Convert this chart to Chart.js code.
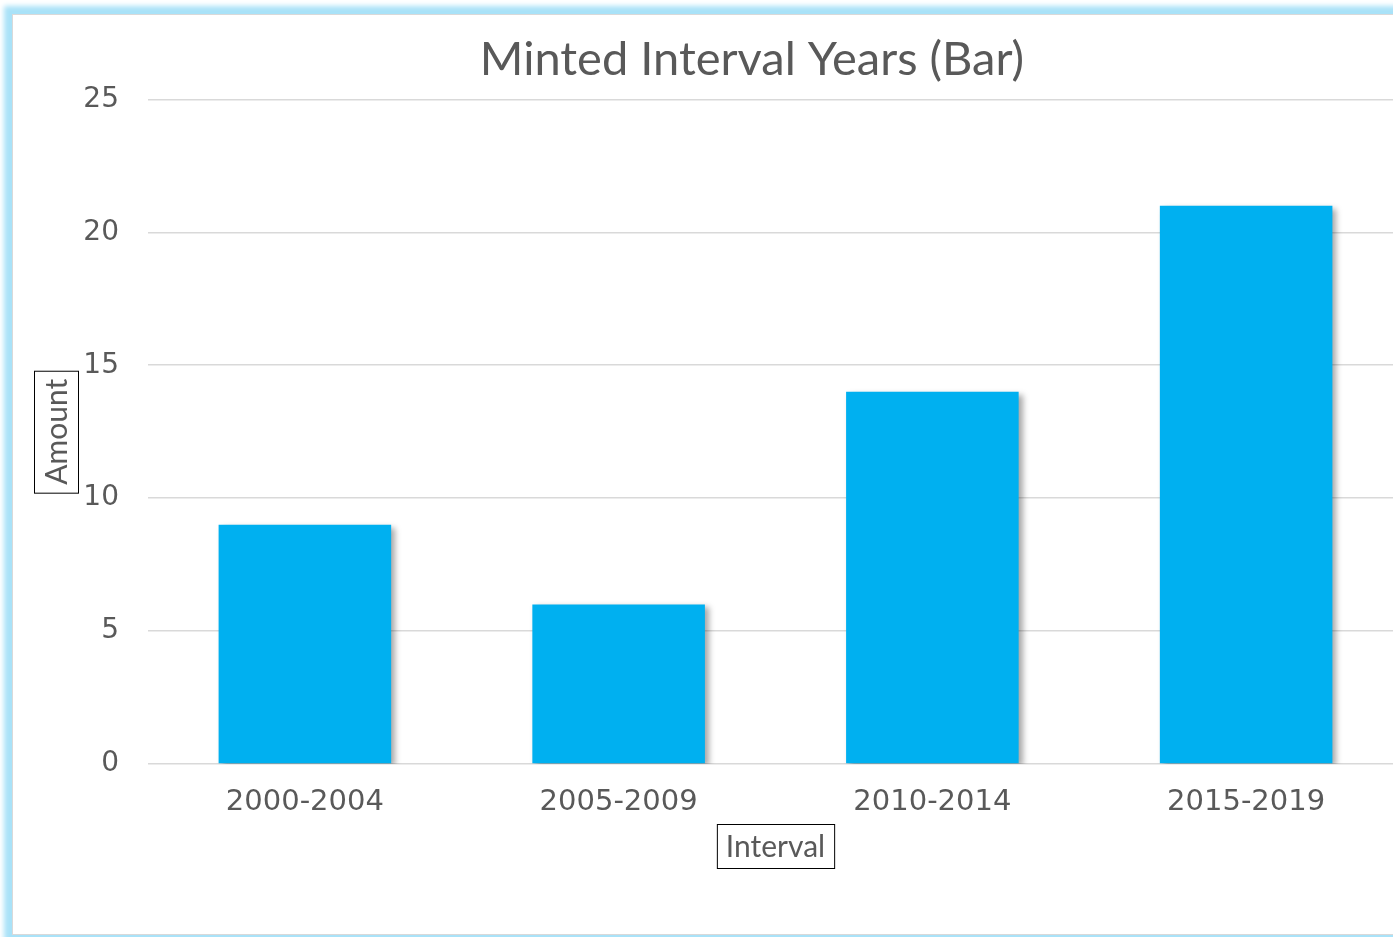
<!DOCTYPE html>
<html>
<head>
<meta charset="utf-8">
<script src="https://cdn.jsdelivr.net/npm/chart.js@4.4.1/dist/chart.umd.min.js"></script>
<style>
  html, body { margin: 0; padding: 0; background: #fff; overflow: hidden; width: 1393px; height: 937px; }
  #box {
    position: absolute; left: 12px; top: 14px; width: 1478px; height: 919px;
    background: #fff; border: 1px solid #d9d9d9;
    box-shadow: 0 0 5px 8px #a9e2f8;
  }
  #box canvas { display: block; }
</style>
</head>
<body>
<div id="box"><canvas id="chart" width="1478" height="919"></canvas></div>
<script>
const intervals = ["2000-2004", "2005-2009", "2010-2014", "2015-2019"];
const amounts = [9, 6, 14, 21];
const yTicks = [0, 5, 10, 15, 20, 25];

const textGrey = "#595959";
const titleFont = "Lato, 'Open Sans', sans-serif";
const tickFont = "'DejaVu Sans', Verdana, sans-serif";

// bar shadow like the office chart
const barShadow = {
    id: "barShadow",
    beforeDatasetDraw(chart) {
        const ctx = chart.ctx;
        ctx.save();
        ctx.shadowColor = "rgba(0,0,0,0.35)";
        ctx.shadowBlur = 6;
        ctx.shadowOffsetX = 4;
        ctx.shadowOffsetY = 3;
    },
    afterDatasetDraw(chart) {
        chart.ctx.restore();
    }
};

// the title sits a bit right of the canvas centre
const shiftTitle = {
    id: "shiftTitle",
    afterLayout(chart) {
        if (chart.titleBlock) chart.titleBlock.left = 88;
    }
};

// boxed axis titles
const boxedTitles = {
    id: "boxedTitles",
    afterDraw(chart) {
        const ctx = chart.ctx;
        const area = chart.chartArea;
        ctx.save();
        ctx.font = "30px " + titleFont;
        ctx.fillStyle = textGrey;
        ctx.strokeStyle = "#000";
        ctx.lineWidth = 1;
        ctx.textAlign = "center";
        ctx.textBaseline = "middle";

        // y title
        const yText = "Amount";
        const yw = ctx.measureText(yText).width;
        const ycx = 43, ycy = (area.top + area.bottom) / 2;
        ctx.strokeRect(ycx - 22 + 0.5, ycy - yw / 2 - 8 + 0.5, 44, yw + 16);
        ctx.save();
        ctx.translate(ycx, ycy);
        ctx.rotate(-Math.PI / 2);
        ctx.fillText(yText, 0, 1);
        ctx.restore();

        // x title
        const xText = "Interval";
        const xw = ctx.measureText(xText).width;
        const xcx = (area.left + area.right) / 2, xcy = 831;
        ctx.strokeRect(xcx - xw / 2 - 9 + 0.5, xcy - 22 + 0.5, xw + 18, 44);
        ctx.fillText(xText, xcx, xcy + 1);
        ctx.restore();
    }
};

new Chart(document.getElementById("chart").getContext("2d"), {
    type: "bar",
    data: {
        labels: intervals,
        datasets: [{
            data: amounts,
            backgroundColor: "#00b0f0",
            borderWidth: 0,
            barPercentage: 0.55,
            categoryPercentage: 1.0
        }]
    },
    options: {
        responsive: false,
        animation: false,
        layout: { padding: { left: 0, right: 88, top: 0, bottom: 0 } },
        plugins: {
            legend: { display: false },
            tooltip: { enabled: false },
            title: {
                display: true,
                text: "Minted Interval Years (Bar)",
                color: textGrey,
                font: { family: titleFont, size: 47, weight: "normal" },
                padding: { top: 17, bottom: 11 }
            }
        },
        scales: {
            x: {
                grid: { display: false, drawTicks: false },
                border: { display: false },
                ticks: {
                    color: textGrey,
                    font: { family: tickFont, size: 29 },
                    padding: 21,
                    maxRotation: 0
                },
                afterFit(scale) { scale.height = 170; }
            },
            y: {
                min: 0,
                max: 25,
                afterBuildTicks(scale) { scale.ticks = yTicks.map(v => ({ value: v })); },
                grid: { color: "#d9d9d9", lineWidth: 1.5, drawTicks: false },
                border: { display: false },
                ticks: {
                    color: textGrey,
                    font: { family: tickFont, size: 28 },
                    padding: 29
                },
                afterFit(scale) { scale.width = 135; }
            }
        }
    },
    plugins: [barShadow, shiftTitle, boxedTitles]
});
</script>
</body>
</html>
